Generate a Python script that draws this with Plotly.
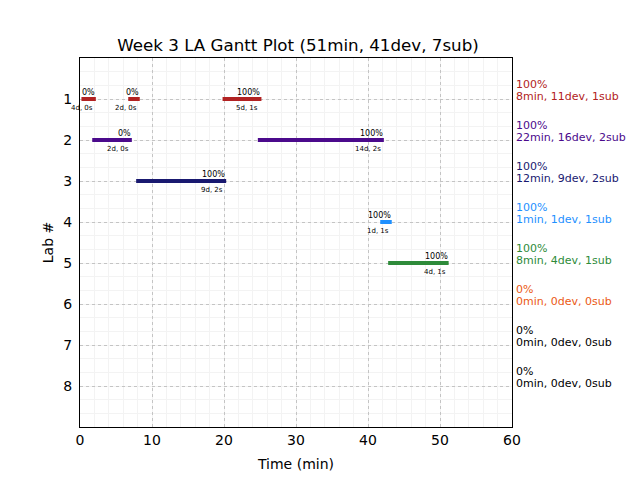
import plotly.graph_objects as go

# ---- data ----
labs = [1, 2, 3, 4, 5, 6, 7, 8]
lab_colors = ["#b22222", "#4b0a8c", "#191970", "#1e90ff", "#2e8b3a", "#eb5a14", "#000000", "#000000"]
lab_pct = ["100%", "100%", "100%", "100%", "100%", "0%", "0%", "0%"]
lab_summary = ["8min, 11dev, 1sub", "22min, 16dev, 2sub", "12min, 9dev, 2sub", "1min, 1dev, 1sub",
               "8min, 4dev, 1sub", "0min, 0dev, 0sub", "0min, 0dev, 0sub", "0min, 0dev, 0sub"]

seg_lab = [1, 1, 1, 2, 2, 3, 4, 5]
seg_start = [0.2, 6.7, 19.8, 1.7, 24.7, 7.8, 41.7, 42.8]
seg_end = [2.2, 8.3, 25.2, 7.2, 42.2, 20.3, 43.3, 51.2]
seg_pct = ["0%", "0%", "100%", "0%", "100%", "100%", "100%", "100%"]
seg_info = ["4d, 0s", "2d, 0s", "5d, 1s", "2d, 0s", "14d, 2s", "9d, 2s", "1d, 1s", "4d, 1s"]

title = "Week 3 LA Gantt Plot (51min, 41dev, 7sub)"
x_ticks = [0, 10, 20, 30, 40, 50, 60]

FONT = "DejaVu Sans"
OFF = 8  # page body margin offset compensation
fig = go.Figure()
annotations = []

for lab, s, e, p, info in zip(seg_lab, seg_start, seg_end, seg_pct, seg_info):
    col = lab_colors[lab - 1]
    fig.add_trace(go.Scatter(x=[s, e], y=[lab, lab], mode="lines",
                             line=dict(color=col, width=4), showlegend=False, hoverinfo="skip"))
    annotations.append(dict(x=e, y=lab, xref="x", yref="y", text=p, showarrow=False,
                            xanchor="right", yanchor="bottom", yshift=0, xshift=1,
                            font=dict(family=FONT, size=8, color="#000000")))
    annotations.append(dict(x=e, y=lab, xref="x", yref="y", text=info, showarrow=False,
                            xanchor="right", yanchor="top", yshift=-3, xshift=-1,
                            font=dict(family=FONT, size=7, color="#000000")))

for lab, col, p, summ in zip(labs, lab_colors, lab_pct, lab_summary):
    annotations.append(dict(x=1, y=lab, xref="paper", yref="y", text=p, showarrow=False,
                            xanchor="left", yanchor="middle", xshift=2, yshift=15,
                            font=dict(family=FONT, size=11, color=col)))
    annotations.append(dict(x=1, y=lab, xref="paper", yref="y", text=summ, showarrow=False,
                            xanchor="left", yanchor="middle", xshift=2, yshift=3,
                            font=dict(family=FONT, size=11, color=col)))

fig.update_layout(
    width=640, height=480,
    margin=dict(l=80 - OFF, r=128 + OFF, t=58 - OFF, b=53 + OFF),
    paper_bgcolor="white", plot_bgcolor="white",
    font=dict(family=FONT, size=14, color="#000000"),
    title=dict(text=title, x=(80 - OFF + 512 - OFF) / 2 / 640 + 2 / 640, xanchor="center", xref="container",
               y=1 - (45 - OFF) / 480, yanchor="middle", yref="container",
               font=dict(family=FONT, size=16.7, color="#000000")),
    annotations=annotations,
    showlegend=False,
)
fig.update_xaxes(
    range=[0, 60], tickvals=x_ticks, ticks="", showline=True, mirror=True,
    linecolor="black", linewidth=1, zeroline=False, automargin=False,
    showgrid=True, gridcolor="#c4c4c4", griddash="dot", gridwidth=1,
    minor=dict(dtick=2, tick0=0, showgrid=True, gridcolor="#f3f3f3", gridwidth=1, griddash="solid"),
    title=dict(text="Time (min)", standoff=12, font=dict(family=FONT, size=14)),
    tickfont=dict(family=FONT, size=14),
)
fig.update_yaxes(
    range=[9, 0], tickvals=labs, ticks="", showline=True, mirror=True,
    linecolor="black", linewidth=1, zeroline=False, automargin=False,
    showgrid=True, gridcolor="#c4c4c4", griddash="dot", gridwidth=1,
    minor=dict(dtick=1 / 3, tick0=0, showgrid=True, gridcolor="#f3f3f3", gridwidth=1, griddash="solid"),
    title=dict(text="Lab #", standoff=6, font=dict(family=FONT, size=14)),
    tickfont=dict(family=FONT, size=14), ticklabelstandoff=4,
)

fig.write_html("out.html")
